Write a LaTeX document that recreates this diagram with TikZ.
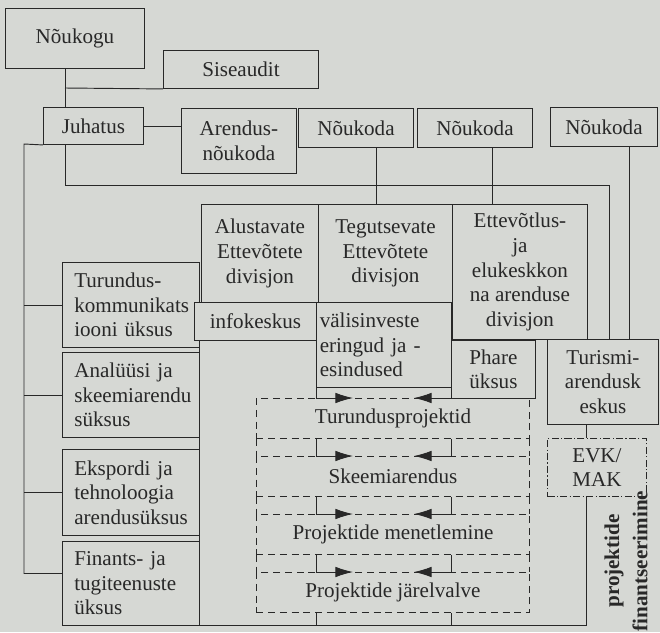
\documentclass[tikz,border=0pt]{standalone}
\usepackage{fontspec}
\setmainfont{Liberation Serif}
\usepackage{xcolor}
\usepackage{tikz}
\usetikzlibrary{arrows.meta, positioning}
\definecolor{paper}{RGB}{214,216,212}
\definecolor{ink}{RGB}{40,40,40}

\begin{document}
\begin{tikzpicture}[x=0.03cm, y=-0.03cm]

% Styles
\tikzset{
	unit/.style={
		rectangle, draw=ink, line width=0.8pt, fill=paper, anchor=north west,
		inner sep=2pt, align=center, text=ink, font=\fontsize{18}{21}\selectfont
	},
	unitleft/.style={unit, align=left, text width=3.4cm, inner xsep=0.35cm,
		minimum width=4.11cm},
	stage/.style={unit, dash pattern=on 6pt off 4pt, minimum width=8.19cm, minimum height=1.2cm},
	fund/.style={unit, dash pattern=on 6pt off 2pt on 1pt off 2pt},
	finlabel/.style={rotate=90, align=center, text=ink, inner sep=0pt,
		font=\fontsize{18}{24}\selectfont\bfseries},
	link/.style={draw=ink, line width=0.8pt},
	flow/.style={link, -{Latex[length=15pt,width=9pt]}},
	dashlink/.style={link, dash pattern=on 6pt off 4pt}
}

% Paper
\fill[paper] (0,0) rectangle (660,632);
\useasboundingbox (0,0) rectangle (660,632);

% Top management
\node (nokogu) [unit, minimum width=4.17cm, minimum height=1.80cm] at (5,8) {Nõukogu};
\node (siseaudit) [unit, minimum width=4.65cm, minimum height=1.14cm] at (163,50) {Siseaudit};
\node (juhatus) [unit, minimum width=3.00cm, minimum height=1.11cm] at (43,107) {Juhatus};
\node (arendus) [unit, minimum width=3.45cm, minimum height=1.95cm] at (181,108) {Arendus-\\nõukoda};
\node (noukoda1) [unit, minimum width=3.45cm, minimum height=1.17cm] at (298,108) {Nõukoda};
\node (noukoda2) [unit, minimum width=3.45cm, minimum height=1.17cm] at (417,108) {Nõukoda};
\node (noukoda3) [unit, minimum width=3.21cm, minimum height=1.17cm] at (550,107) {Nõukoda};

% Units on the left
\node (turundus) [unitleft, minimum height=2.55cm] at (62,262) {Turundus-\\kommunikats\\iooni üksus};
\node (analuusi) [unitleft, minimum height=2.55cm] at (62,352) {Analüüsi ja\\skeemiarendu\\süksus};
\node (ekspordi) [unitleft, minimum height=2.58cm] at (62,449) {Ekspordi ja\\tehnoloogia\\arendusüksus};
\node (finants) [unitleft, minimum height=2.52cm] at (62,541) {Finants- ja\\tugiteenuste\\üksus};

% Project stages
\node (turproj) [stage] at (256,398) {Turundusprojektid};
\node (skeem) [stage] at (256,456) {Skeemiarendus};
\node (menet) [stage] at (256,514) {Projektide menetlemine};
\node (jarel) [stage] at (256,572) {Projektide järelvalve};

% Divisions
\node (alustavate) [unit, minimum width=3.51cm, minimum height=2.94cm] at (201,204) {Alustavate\\Ettevõtete\\divisjon};
\node (tegutsevate) [unit, minimum width=4.02cm, minimum height=2.94cm] at (318,204) {Tegutsevate\\Ettevõtete\\divisjon};
\node (ettevotlus) [unit, minimum width=4.05cm, minimum height=4.05cm] at (452,204) {Ettevõtlus-\\ja\\elukeskkon\\na arenduse\\divisjon};
\node (infokeskus) [unit, minimum width=3.66cm, minimum height=1.14cm] at (194,302) {infokeskus};
\node (valis) [unit, align=left, text width=3.85cm, inner xsep=0.1cm, minimum width=4.05cm, minimum height=2.55cm] at (316,302) {välisinveste\\eringud ja -\\esindused};
\node (phare) [unit, minimum width=2.52cm, minimum height=1.74cm] at (451,340) {Phare\\üksus};
\node (turismi) [unit, minimum width=3.33cm, minimum height=2.55cm] at (547,339) {Turismi-\\arendusk\\eskus};
\node (evk) [fund, minimum width=2.97cm, minimum height=1.74cm] at (547,438) {EVK/\\MAK};

% Financing label
\node (finlabel) [finlabel] at (626,561) {projektide\\finantseerimine};

% Nõukogu, Siseaudit, Juhatus
\coordinate (trunk) at (65,88);
\draw[link] (nokogu.south -| trunk) -- (juhatus.north -| trunk);
\draw[link] (trunk) -- (siseaudit.south west);
\draw[link] (juhatus.east) -- (juhatus.east -| arendus.west);

% Juhatus to Turismiarenduskeskus
\coordinate (jline) at (609,185);
\draw[link] (juhatus.south -| trunk) |- (jline) -- (jline |- turismi.north);

% Juhatus to left units
\coordinate (leftline) at (24,144);
\draw[link] (juhatus.south west) -- (leftline) |- ([yshift=0.3cm]finants.west);
\draw[link] (leftline |- turundus.west) -- (turundus.west);
\draw[link] (leftline |- analuusi.west) -- (analuusi.west);
\draw[link] (leftline |- ekspordi.west) -- (ekspordi.west);

% Nõukojad to divisions
\coordinate (c1) at (376,0);
\coordinate (c2) at (492,0);
\coordinate (c3) at (629,0);
\draw[link] (noukoda1.south -| c1) -- (tegutsevate.north -| c1);
\draw[link] (noukoda2.south -| c2) -- (ettevotlus.north -| c2);
\draw[link] (noukoda3.south -| c3) -- (turismi.north -| c3);

% Financing frame
\coordinate (fx) at (586,625);
\coordinate (fb) at (199,625);
\draw[link] (turismi.south -| fx) -- (evk.north -| fx);
\draw[link] (evk.south -| fx) -- (fx) -- (fb) -- (fb |- infokeskus.south);

% Stage rails
\draw[dashlink] (turproj.south west) -- (skeem.north west);
\draw[dashlink] (skeem.south west) -- (menet.north west);
\draw[dashlink] (menet.south west) -- (jarel.north west);
\draw[dashlink] (turproj.south east) -- (skeem.north east);
\draw[dashlink] (skeem.south east) -- (menet.north east);
\draw[dashlink] (menet.south east) -- (jarel.north east);

% Project flow
\draw[link] (valis.south west) -- (valis.south west |- turproj.north);
\draw[flow] (valis.south west |- turproj.north) -- ++(37,0);
\draw[flow] (valis.south east |- turproj.north) -- ++(-38,0);
\draw[link] (turproj.south -| valis.south west) -- (skeem.north -| valis.south west);
\draw[link] (turproj.south -| valis.south east) -- (skeem.north -| valis.south east);
\draw[flow] (skeem.north -| valis.south west) -- ++(37,0);
\draw[flow] (skeem.north -| valis.south east) -- ++(-38,0);
\draw[link] (skeem.south -| valis.south west) -- (menet.north -| valis.south west);
\draw[link] (skeem.south -| valis.south east) -- (menet.north -| valis.south east);
\draw[flow] (menet.north -| valis.south west) -- ++(37,0);
\draw[flow] (menet.north -| valis.south east) -- ++(-38,0);
\draw[link] (menet.south -| valis.south west) -- (jarel.north -| valis.south west);
\draw[link] (menet.south -| valis.south east) -- (jarel.north -| valis.south east);
\draw[flow] (jarel.north -| valis.south west) -- ++(37,0);
\draw[flow] (jarel.north -| valis.south east) -- ++(-38,0);
\draw[link] (jarel.south -| valis.south west) -- (fb -| valis.south west);
\draw[link] (jarel.south -| valis.south east) -- (fb -| valis.south east);

\end{tikzpicture}
\end{document}
